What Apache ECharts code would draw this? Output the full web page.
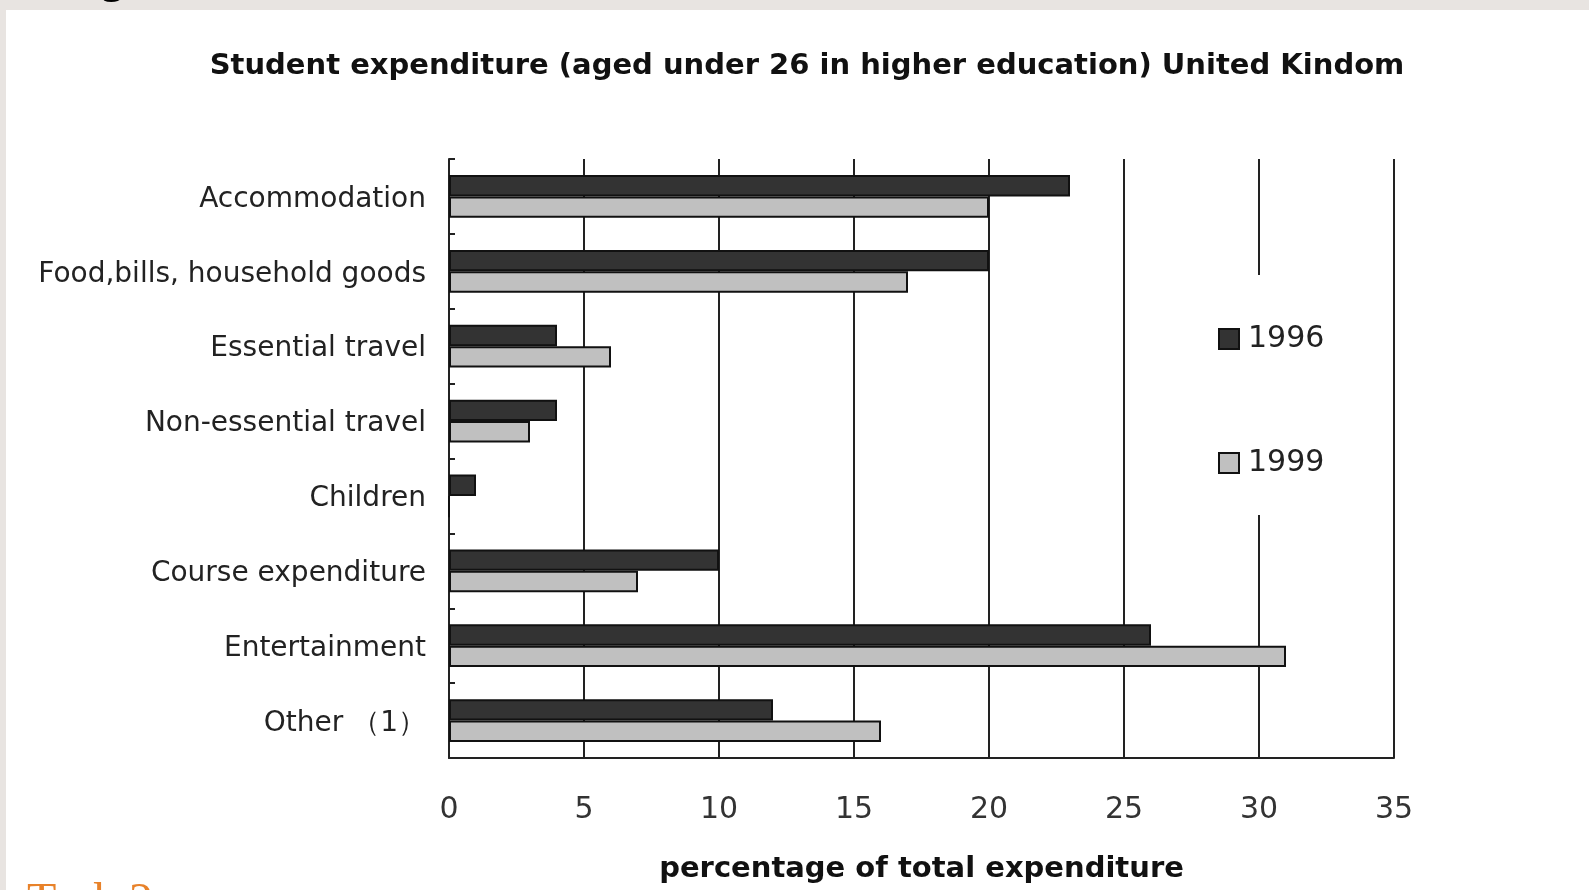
<!DOCTYPE html>
<html>
<head>
<meta charset="utf-8">
<script src="https://cdn.jsdelivr.net/npm/echarts@6/dist/echarts.min.js"></script>
<style>
html,body{margin:0;padding:0;background:#fff;}
#chart{width:1589px;height:890px;}
</style>
</head>
<body>
<div id="chart"></div>
<script>
var categories = ['Accommodation','Food,bills, household goods','Essential travel','Non-essential travel','Children','Course expenditure','Entertainment','Other （1）'];
var values1996 = [23, 20, 4, 4, 1, 10, 26, 12];
var values1999 = [20, 17, 6, 3, 0, 7, 31, 16];
var seriesNames = ['1996', '1999'];
var xTicks = [0, 5, 10, 15, 20, 25, 30, 35];

var FONT = 'DejaVu Sans';
var chart = echarts.init(document.getElementById('chart'), null, {renderer: 'canvas'});
chart.setOption({
  backgroundColor: '#ffffff',
  animation: false,
  title: {
    text: 'Student expenditure (aged under 26 in higher education) United Kindom',
    left: 807, top: 52, textAlign: 'center', padding: 0,
    textStyle: {fontFamily: FONT, fontSize: 29, fontWeight: 'bold', color: '#111'}
  },
  legend: {
    orient: 'vertical', left: 1208, top: 275,
    padding: [49, 10, 37, 10], itemGap: 94,
    backgroundColor: '#ffffff',
    itemWidth: 20, itemHeight: 20, icon: 'rect',
    textStyle: {fontFamily: FONT, fontSize: 30, color: '#222', padding: [0, 0, 0, 4]},
    data: seriesNames
  },
  grid: {left: 449, right: 195, top: 159, bottom: 132, containLabel: false},
  xAxis: {
    type: 'value', min: xTicks[0], max: xTicks[xTicks.length - 1], interval: 5,
    name: 'percentage of total expenditure', nameLocation: 'middle', nameGap: 97,
    nameTextStyle: {fontFamily: FONT, fontSize: 29, fontWeight: 'bold', color: '#111'},
    axisLine: {show: true, lineStyle: {color: '#222', width: 2}},
    axisTick: {show: false},
    axisLabel: {margin: 37, fontFamily: FONT, fontSize: 30, color: '#333'},
    splitLine: {show: true, lineStyle: {color: '#222', width: 2}}
  },
  yAxis: {
    type: 'category', inverse: true, data: categories,
    axisLine: {show: true, lineStyle: {color: '#222', width: 2}},
    axisTick: {show: true, inside: true, length: 6, lineStyle: {color: '#222', width: 2}},
    axisLabel: {
      margin: 23, fontFamily: FONT, fontSize: 28, color: '#222',
      formatter: function (v) { return '{a|' + v + '}'; },
      rich: {a: {fontFamily: FONT, fontSize: 28, color: '#222', padding: [6, 0, 0, 0]}}
    },
    splitLine: {show: false}
  },
  series: [
    {name: seriesNames[0], type: 'bar', data: values1996, barGap: '0%', barCategoryGap: '43%',
     itemStyle: {color: '#333333', borderColor: '#111', borderWidth: 2}},
    {name: seriesNames[1], type: 'bar', data: values1999, barGap: '0%', barCategoryGap: '43%',
     itemStyle: {color: '#c0c0c0', borderColor: '#111', borderWidth: 2}}
  ],
  graphic: [
    {type: 'rect', left: 0, top: 0, shape: {width: 1589, height: 10}, style: {fill: '#e8e4e1'}, z: 100},
    {type: 'rect', left: 0, top: 0, shape: {width: 6, height: 890}, style: {fill: '#e8e4e1'}, z: 100},
    {type: 'text', x: 100, y: 3, style: {text: 'g', fontFamily: 'Liberation Serif', fontSize: 48, fill: '#000', verticalAlign: 'bottom'}, z: 101},
    {type: 'text', x: 27, y: 879, style: {text: 'Task 2', fontFamily: 'Liberation Serif', fontSize: 48, fill: '#e8822a', verticalAlign: 'top'}, z: 101}
  ]
});
</script>
</body>
</html>
